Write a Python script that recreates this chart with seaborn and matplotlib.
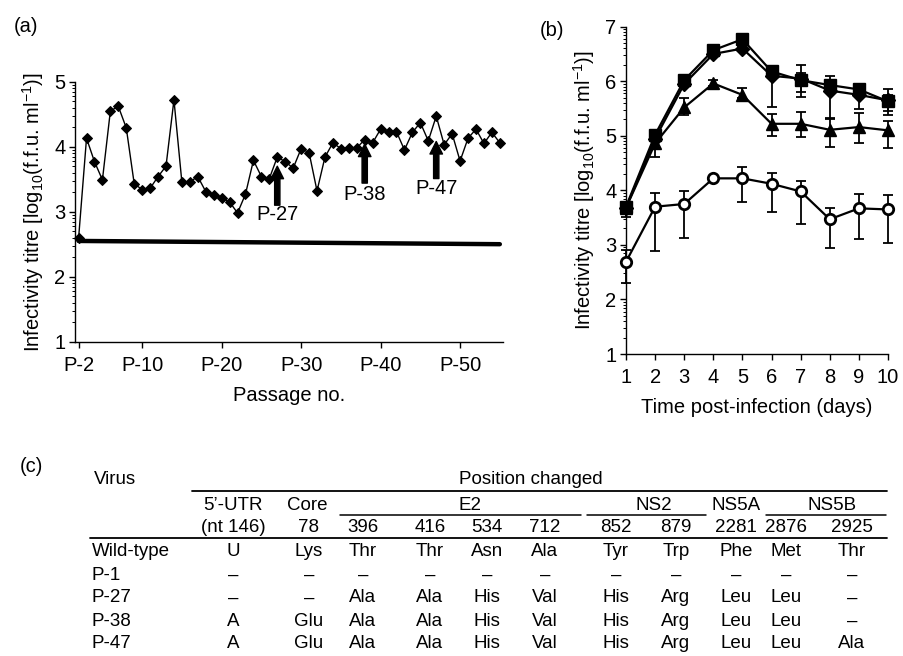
import numpy as np
import matplotlib
matplotlib.use('Agg')
import matplotlib.pyplot as plt
import seaborn as sns
from matplotlib.ticker import FixedLocator

# ---- (a) serial passage of the virus ----
passage = list(range(2, 56))
titre = [2.59, 4.13, 3.77, 3.49, 4.55, 4.62, 4.29, 3.43, 3.34, 3.36, 3.54, 3.70,
         4.72, 3.45, 3.46, 3.54, 3.31, 3.26, 3.21, 3.15, 2.98, 3.27, 3.79, 3.54,
         3.51, 3.84, 3.77, 3.67, 3.97, 3.91, 3.32, 3.84, 4.06, 3.97, 3.98, 3.98,
         4.11, 4.06, 4.27, 4.22, 4.23, 3.95, 4.22, 4.37, 4.09, 4.47, 4.03, 4.20,
         3.78, 4.13, 4.27, 4.05, 4.22, 4.06]
limit_x = [2, 55]
limit_y = [2.55, 2.50]
pass_ticks = [2, 10, 20, 30, 40, 50]
pass_labels = ['P-2', 'P-10', 'P-20', 'P-30', 'P-40', 'P-50']
arrow_pass = [27, 38, 47]
arrow_tail = [3.10, 3.44, 3.51]
arrow_head = [3.70, 4.04, 4.08]
arrow_text = ['P-27', 'P-38', 'P-47']
arrow_text_y = [2.96, 3.26, 3.36]

# ---- (b) growth kinetics ----
days = list(range(1, 11))
sq_mean = [3.70, 5.02, 6.02, 6.57, 6.77, 6.18, 6.02, 5.93, 5.85, 5.63]
sq_lo = [3.65, 4.97, 5.97, 6.52, 6.72, 6.10, 5.72, 5.85, 5.78, 5.45]
sq_hi = [3.75, 5.07, 6.07, 6.62, 6.85, 6.25, 6.30, 6.10, 5.92, 5.85]
dm_mean = [3.68, 4.95, 5.95, 6.50, 6.60, 6.10, 6.05, 5.83, 5.75, 5.65]
dm_lo = [3.52, 4.90, 5.90, 6.45, 6.55, 5.52, 5.80, 5.30, 5.50, 5.38]
dm_hi = [3.72, 5.00, 6.00, 6.55, 6.65, 6.20, 6.15, 6.00, 5.90, 5.75]
tri_mean = [3.68, 4.86, 5.52, 5.96, 5.75, 5.22, 5.22, 5.11, 5.16, 5.10]
tri_lo = [3.60, 4.62, 5.38, 5.92, 5.70, 5.00, 4.97, 4.80, 4.87, 4.78]
tri_hi = [3.75, 5.00, 5.70, 6.02, 5.88, 5.40, 5.43, 5.33, 5.42, 5.28]
op_mean = [2.69, 3.70, 3.75, 4.22, 4.22, 4.12, 3.98, 3.47, 3.67, 3.65]
op_lo = [2.31, 2.89, 3.12, 4.18, 3.79, 3.61, 3.38, 2.95, 3.10, 3.04]
op_hi = [2.90, 3.95, 3.98, 4.27, 4.43, 4.32, 4.17, 3.67, 3.93, 3.92]

# ---- (c) table ----
virus = ['Wild-type', 'P-1', 'P-27', 'P-38', 'P-47']
regions = ['5\u2019-UTR', 'Core', 'E2', 'NS2', 'NS5A', 'NS5B']
positions = ['(nt 146)', '78', '396', '416', '534', '712', '852', '879',
             '2281', '2876', '2925']
residues = [
    ['U', 'Lys', 'Thr', 'Thr', 'Asn', 'Ala', 'Tyr', 'Trp', 'Phe', 'Met', 'Thr'],
    ['\u2013'] * 11,
    ['\u2013', '\u2013', 'Ala', 'Ala', 'His', 'Val', 'His', 'Arg', 'Leu', 'Leu', '\u2013'],
    ['A', 'Glu', 'Ala', 'Ala', 'His', 'Val', 'His', 'Arg', 'Leu', 'Leu', '\u2013'],
    ['A', 'Glu', 'Ala', 'Ala', 'His', 'Val', 'His', 'Arg', 'Leu', 'Leu', 'Ala'],
]

sns.set_theme(style='ticks')
plt.rcParams['font.family'] = ['Liberation Sans', 'DejaVu Sans']
plt.rcParams['mathtext.fontset'] = 'custom'
plt.rcParams['mathtext.rm'] = 'Liberation Sans'
plt.rcParams['mathtext.it'] = 'Liberation Sans'
plt.rcParams['text.color'] = 'black'
plt.rcParams['axes.labelcolor'] = 'black'
plt.rcParams['xtick.color'] = 'black'
plt.rcParams['ytick.color'] = 'black'

W, H = 904, 656
fig = plt.figure(figsize=(W / 100, H / 100), dpi=100)
ylab = r'Infectivity titre [log$_{10}$(f.f.u. ml$^{-1}$)]'


def style_axis(ax, ymin, ymax):
    sns.despine(ax=ax)
    for s in ('left', 'bottom'):
        ax.spines[s].set_linewidth(1.0)
        ax.spines[s].set_color('black')
    ax.set_ylim(ymin, ymax)
    ax.set_yticks(range(ymin, ymax + 1))
    minor = [n + np.log10(k) for n in range(ymin, ymax) for k in range(2, 10)]
    ax.yaxis.set_minor_locator(FixedLocator(minor))
    ax.tick_params(axis='y', which='major', length=4, width=1, labelsize=14.5, pad=3)
    ax.tick_params(axis='y', which='minor', length=2, width=0.7)
    ax.tick_params(axis='x', which='major', length=4, width=1, labelsize=14.5, pad=6)
    ax.set_ylabel(ylab, fontsize=14.5, labelpad=6)


# panel (a)
ax_a = fig.add_axes([75 / W, 1 - 341.7 / H, 428 / W, 260 / H])
sns.lineplot(x=passage, y=titre, ax=ax_a, color='black', lw=1.0, marker='D',
             markersize=5.5, markeredgecolor='black', clip_on=False)
sns.lineplot(x=limit_x, y=limit_y, ax=ax_a, color='black', lw=3.2)
for x, t, h, lab, ly in zip(arrow_pass, arrow_tail, arrow_head, arrow_text, arrow_text_y):
    ax_a.annotate('', xy=(x, h), xytext=(x, t),
                  arrowprops=dict(facecolor='black', edgecolor='black', width=3.8,
                                  headwidth=9, headlength=9, shrink=0))
    ax_a.text(x, ly, lab, ha='center', va='center', fontsize=14.5)
ax_a.set_xlim(1.55, 55.4)
style_axis(ax_a, 1, 5)
ax_a.set_xticks(pass_ticks)
ax_a.set_xticklabels(pass_labels)
ax_a.set_xlabel('Passage no.', fontsize=14.5, labelpad=8)

# panel (b)
ax_b = fig.add_axes([626 / W, 1 - 354 / H, 262 / W, 327.3 / H])
series = [
    (op_mean, op_lo, op_hi, 'o', 'white', 7.5),
    (tri_mean, tri_lo, tri_hi, '^', 'black', 9),
    (dm_mean, dm_lo, dm_hi, 'D', 'black', 7),
    (sq_mean, sq_lo, sq_hi, 's', 'black', 8),
]
for mean, lo, hi, mk, fc, ms in series:
    err = [np.subtract(mean, lo), np.subtract(hi, mean)]
    ax_b.errorbar(days, mean, yerr=err, fmt='none', ecolor='black', elinewidth=1.3,
                  capsize=3.5, capthick=1.3, clip_on=False, zorder=2)
    sns.lineplot(x=days, y=mean, ax=ax_b, color='black', lw=1.6, marker=mk,
                 markersize=ms, markerfacecolor=fc, markeredgecolor='black',
                 markeredgewidth=2 if fc == 'white' else 1, clip_on=False, zorder=3)
ax_b.set_xlim(1, 10)
style_axis(ax_b, 1, 7)
ax_b.set_xticks(days)
ax_b.set_xlabel('Time post-infection (days)', fontsize=14.5, labelpad=8)

# panel (c) table, drawn in pixel coordinates
ax_c = fig.add_axes([0, 0, 1, 1], zorder=-1)
ax_c.set_xlim(0, W)
ax_c.set_ylim(H, 0)
ax_c.axis('off')

ax_c.text(14, 27, '(a)', fontsize=14.5, va='center', ha='left')
ax_c.text(540, 30, '(b)', fontsize=14.5, va='center', ha='left')
ax_c.text(20, 467, '(c)', fontsize=14.5, va='center', ha='left')

fs = 13.5
col_x = [233, 309, 363, 430, 487, 545, 616, 676, 736, 786, 852]
region_x = [233, 307, 470, 654, 736, 832]
region_line = {'E2': (340, 581), 'NS2': (587, 706), 'NS5B': (766, 886)}
row_y = [552, 575, 598, 621, 644]

ax_c.text(94, 480, 'Virus', fontsize=fs, va='center', ha='left')
ax_c.text(531, 480, 'Position changed', fontsize=fs, va='center', ha='center')
ax_c.plot([192, 887], [491, 491], color='black', lw=1.3)
for name, x in zip(regions, region_x):
    ax_c.text(x, 506, name, fontsize=fs, va='center', ha='center')
    if name in region_line:
        x0, x1 = region_line[name]
        ax_c.plot([x0, x1], [515, 515], color='black', lw=1.1)
for p, x in zip(positions, col_x):
    ax_c.text(x, 528, p, fontsize=fs, va='center', ha='center')
ax_c.plot([90, 887], [538, 538], color='black', lw=1.3)
for v, row, y in zip(virus, residues, row_y):
    ax_c.text(92, y, v, fontsize=fs, va='center', ha='left')
    for r, x in zip(row, col_x):
        ax_c.text(x, y, r, fontsize=fs, va='center', ha='center')

fig.savefig('out.png', dpi=100, facecolor='white')
